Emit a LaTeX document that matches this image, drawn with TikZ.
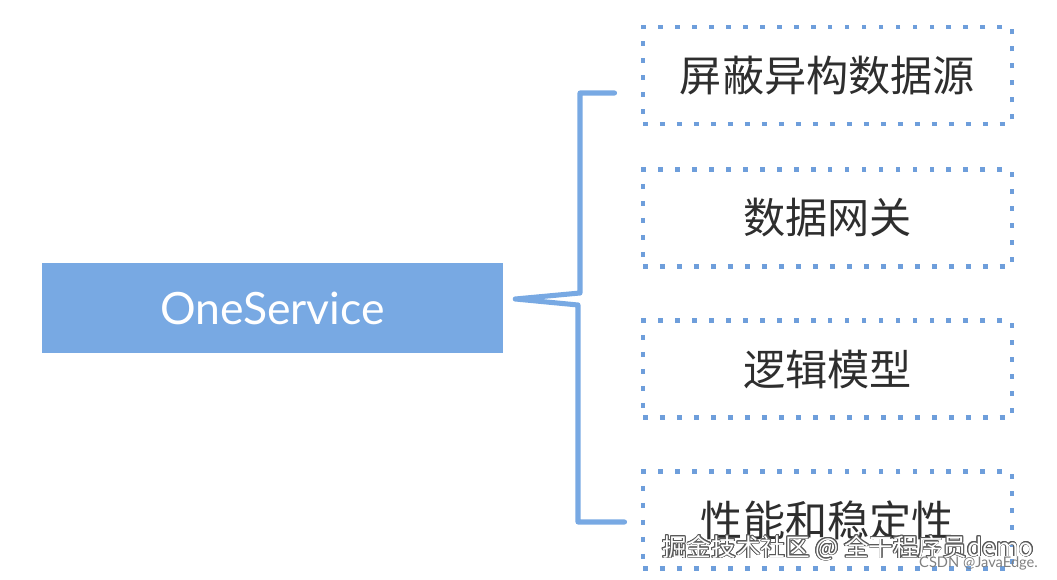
\documentclass[tikz,border=0pt]{standalone}
\usepackage{fontspec}
\setmainfont{Lato}
\newfontfamily\cjk{Noto Sans CJK SC}
\usepackage{contour}
\contourlength{0.7pt}
\definecolor{boxblue}{HTML}{78A9E3}
\definecolor{dotblue}{HTML}{6E9EDB}
\definecolor{textgray}{HTML}{2E2E2E}
\tikzset{svcbox/.style={
    fill=boxblue,
    minimum width=138.3mm,
    minimum height=27mm,
    inner sep=0pt,
    text=white,
    font=\fontsize{38}{42}\selectfont}
}
\tikzset{partbox/.style={
    draw=dotblue,
    line width=4.2pt,
    dash pattern=on 4.2pt off 10.3pt,
    minimum width=110.7mm,
    minimum height=29.1mm,
    inner sep=0pt,
    text=textgray,
    font=\cjk\fontsize{36}{40}\selectfont}
}
\tikzset{brace/.style={
    draw=boxblue,
    line width=4.3pt,
    line cap=round,
    line join=round}
}

\begin{document}
\begin{tikzpicture}[x=0.3mm,y=-0.3mm]
      \useasboundingbox (0,0) rectangle (1057,580);

      % left block
      \node[svcbox] (svc) at (272.5,308) {OneService};

      % dotted boxes on the right
      \node[partbox] (src) at (827.5,75.5) {屏蔽异构数据源};
      \node[partbox] (gate) at (827.5,218) {数据网关};
      \node[partbox] (model) at (827.5,369) {逻辑模型};
      \node[partbox] (perf) at (827.5,520) {性能和稳定性};

      % bracket
      \coordinate (tip) at ([shift={(12,-9)}]svc.east);
      \coordinate (top) at ([shift={(-26,17.5)}]src.west);
      \coordinate (bot) at ([shift={(-16,2)}]perf.west);
      \draw[brace] (top) -| (580,293) -- (tip) -- (578,305) |- (bot);

      % watermarks
      \node[anchor=base east, font=\cjk\fontsize{21}{24}\selectfont, text=white]
      (wm) at (1038,556) {\contour{gray!70!black}{掘金技术社区 @ 全干程序员demo}};
      \node[anchor=base east, font=\fontsize{12.5}{14}\selectfont, text=gray]
      (csdn) at (1042,567) {CSDN @JavaEdge.};
\end{tikzpicture}
\end{document}
